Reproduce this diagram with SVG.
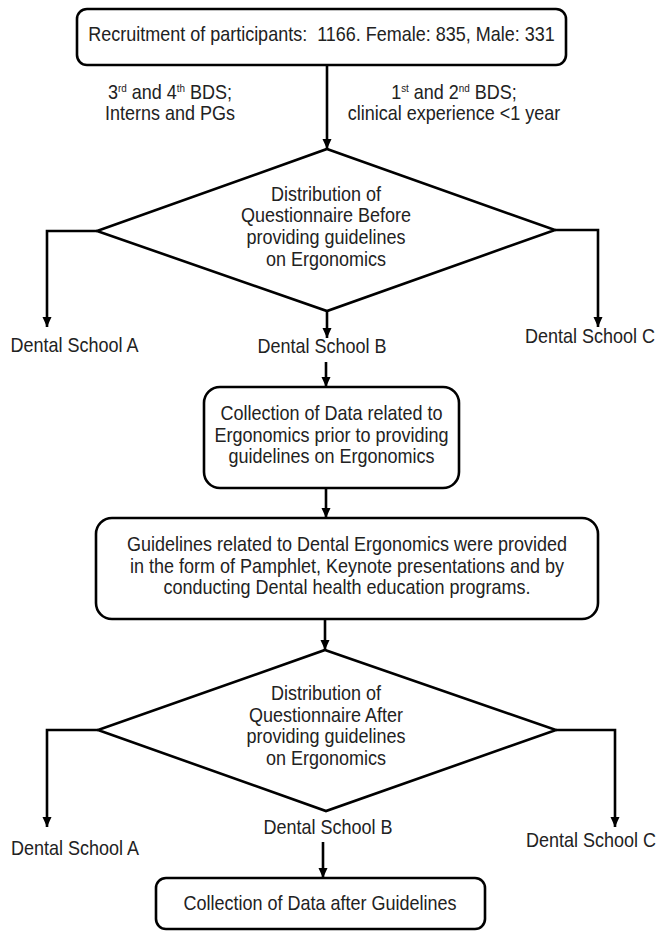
<svg xmlns="http://www.w3.org/2000/svg" width="656" height="931" viewBox="0 0 656 931">
<style>
.shape{fill:#fff;stroke:#000;stroke-width:2.6}
.conn{fill:none;stroke:#000;stroke-width:2.6}
text{font-family:"Liberation Sans",Arial,sans-serif;font-size:20px;fill:#222;text-anchor:middle;transform:scaleX(0.9);transform-box:fill-box;transform-origin:center}
.sup{font-size:11px}
</style>
<defs>
<marker id="ah" markerUnits="userSpaceOnUse" markerWidth="10" markerHeight="10" refX="10" refY="5" orient="auto">
<path d="M0,0.5 L10,5 L0,9.5 z" fill="#000"/>
</marker>
</defs>
<g id="connectors">
<path class="conn" d="M327,65 V149" marker-end="url(#ah)"/>
<path class="conn" d="M97,231 H47 V327" marker-end="url(#ah)"/>
<path class="conn" d="M555,230 H598 V327" marker-end="url(#ah)"/>
<path class="conn" d="M327,311 V338" marker-end="url(#ah)"/>
<path class="conn" d="M326,362 V387" marker-end="url(#ah)"/>
<path class="conn" d="M326,488 V518" marker-end="url(#ah)"/>
<path class="conn" d="M325,619 V650" marker-end="url(#ah)"/>
<path class="conn" d="M98,730 H47 V827" marker-end="url(#ah)"/>
<path class="conn" d="M556,730 H615 V827" marker-end="url(#ah)"/>
<path class="conn" d="M323,842 V878" marker-end="url(#ah)"/>
</g>
<g id="recruitment">
<rect class="shape" x="77" y="9" width="489" height="56" rx="10"/>
<text x="321.5" y="41">Recruitment of participants:&#160; 1166. Female: 835, Male: 331</text>
</g>
<g id="label-senior">
<text x="170" y="99">3<tspan class="sup" dy="-7">rd</tspan><tspan dy="7"> and 4</tspan><tspan class="sup" dy="-7">th</tspan><tspan dy="7"> BDS;</tspan></text>
<text x="170" y="120">Interns and PGs</text>
</g>
<g id="label-junior">
<text x="454" y="99">1<tspan class="sup" dy="-7">st</tspan><tspan dy="7"> and 2</tspan><tspan class="sup" dy="-7">nd</tspan><tspan dy="7"> BDS;</tspan></text>
<text x="454" y="120">clinical experience &lt;1 year</text>
</g>
<g id="diamond-before">
<polygon class="shape" points="327,149 555,230 327,311 97,231"/>
<text x="326" y="201">Distribution of</text>
<text x="326" y="222">Questionnaire Before</text>
<text x="326" y="244">providing guidelines</text>
<text x="326" y="266">on Ergonomics</text>
</g>
<g id="school-a1"><text x="74.5" y="352">Dental School A</text></g>
<g id="school-b1"><text x="322" y="353">Dental School B</text></g>
<g id="school-c1"><text x="590" y="343">Dental School C</text></g>
<g id="collection-before">
<rect class="shape" x="204" y="387" width="255" height="101" rx="16"/>
<text x="331.5" y="420">Collection of Data related to</text>
<text x="331.5" y="442">Ergonomics prior to providing</text>
<text x="331.5" y="463">guidelines on Ergonomics</text>
</g>
<g id="guidelines">
<rect class="shape" x="96" y="518" width="502" height="101" rx="16"/>
<text x="347" y="551">Guidelines related to Dental Ergonomics were provided</text>
<text x="347" y="573">in the form of Pamphlet, Keynote presentations and by</text>
<text x="347" y="594">conducting Dental health education programs.</text>
</g>
<g id="diamond-after">
<polygon class="shape" points="325,650 556,730 326,811 98,730"/>
<text x="326" y="700">Distribution of</text>
<text x="326" y="722">Questionnaire After</text>
<text x="326" y="743">providing guidelines</text>
<text x="326" y="765">on Ergonomics</text>
</g>
<g id="school-a2"><text x="75" y="855">Dental School A</text></g>
<g id="school-b2"><text x="328" y="834">Dental School B</text></g>
<g id="school-c2"><text x="591" y="847">Dental School C</text></g>
<g id="collection-after">
<rect class="shape" x="156" y="878" width="329" height="51" rx="10"/>
<text x="320" y="910">Collection of Data after Guidelines</text>
</g>
</svg>
